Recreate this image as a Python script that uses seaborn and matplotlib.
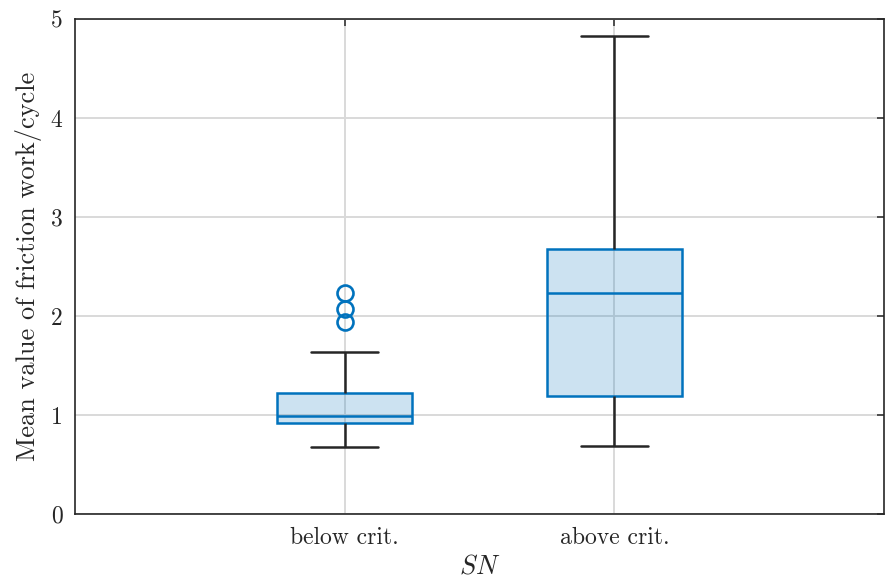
import numpy as np
import pandas as pd
import matplotlib
matplotlib.use("Agg")
import matplotlib.pyplot as plt
import seaborn as sns

# Friction work per cycle, grouped by SN regime
categories = ["below crit.", "above crit."]
below_crit = [0.68, 0.75, 0.80, 0.85, 0.89, 0.92, 0.94, 0.95, 0.97, 0.98,
              0.99, 1.03, 1.08, 1.13, 1.18, 1.22, 1.40, 1.64, 1.94, 2.07, 2.235]
above_crit = [0.69, 0.95, 1.19, 1.80, 2.23, 2.45, 2.68, 3.60, 4.83]
y_ticks = [0, 1, 2, 3, 4, 5]

df = pd.DataFrame({
    "SN": [categories[0]] * len(below_crit) + [categories[1]] * len(above_crit),
    "value": below_crit + above_crit,
})

sns.set_theme(style="white")
plt.rcParams["font.family"] = ["cmr10", "DejaVu Serif"]
plt.rcParams["mathtext.fontset"] = "cm"
plt.rcParams["axes.formatter.use_mathtext"] = True

blue = "#0072BD"
dark = "#262626"
fill = (0.0, 0.447, 0.741, 0.2)

fig = plt.figure(figsize=(8.85, 5.83), dpi=100)
ax = fig.add_axes([75 / 885, 69 / 583, 809 / 885, 495 / 583])

sns.boxplot(
    data=df, x="SN", y="value", order=categories, ax=ax,
    width=0.5, whis=1.5, linewidth=1.8,
    boxprops=dict(facecolor=fill, edgecolor=blue, linewidth=1.8),
    whiskerprops=dict(color=dark, linewidth=1.8),
    capprops=dict(color=dark, linewidth=1.8),
    medianprops=dict(color=blue, linewidth=1.8),
    flierprops=dict(marker="o", markerfacecolor="none", markeredgecolor=blue,
                    markersize=11.5, markeredgewidth=1.9),
)

# Light grid on both axes, kept behind the boxes
ax.set_axisbelow(True)
ax.xaxis.grid(True, color="#d9d9d9", linewidth=1.4)
ax.yaxis.grid(True, color="#d9d9d9", linewidth=1.4)

ax.set_xlim(-1, 2)
ax.set_ylim(0, 5)
ax.set_yticks(y_ticks)
ax.set_yticklabels([str(t) for t in y_ticks])

for s in ax.spines.values():
    s.set_visible(True)
    s.set_color(dark)
    s.set_linewidth(1.2)

ax.tick_params(direction="in", top=True, right=True, length=5, width=1.1,
               color=dark, labelsize=17, labelcolor=dark, pad=9)

ax.set_xlabel("$SN$", fontsize=19, color=dark, labelpad=4)
ax.set_ylabel("Mean value of friction work/cycle", fontsize=19, color=dark, labelpad=6)

fig.savefig("out.png", dpi=100)
